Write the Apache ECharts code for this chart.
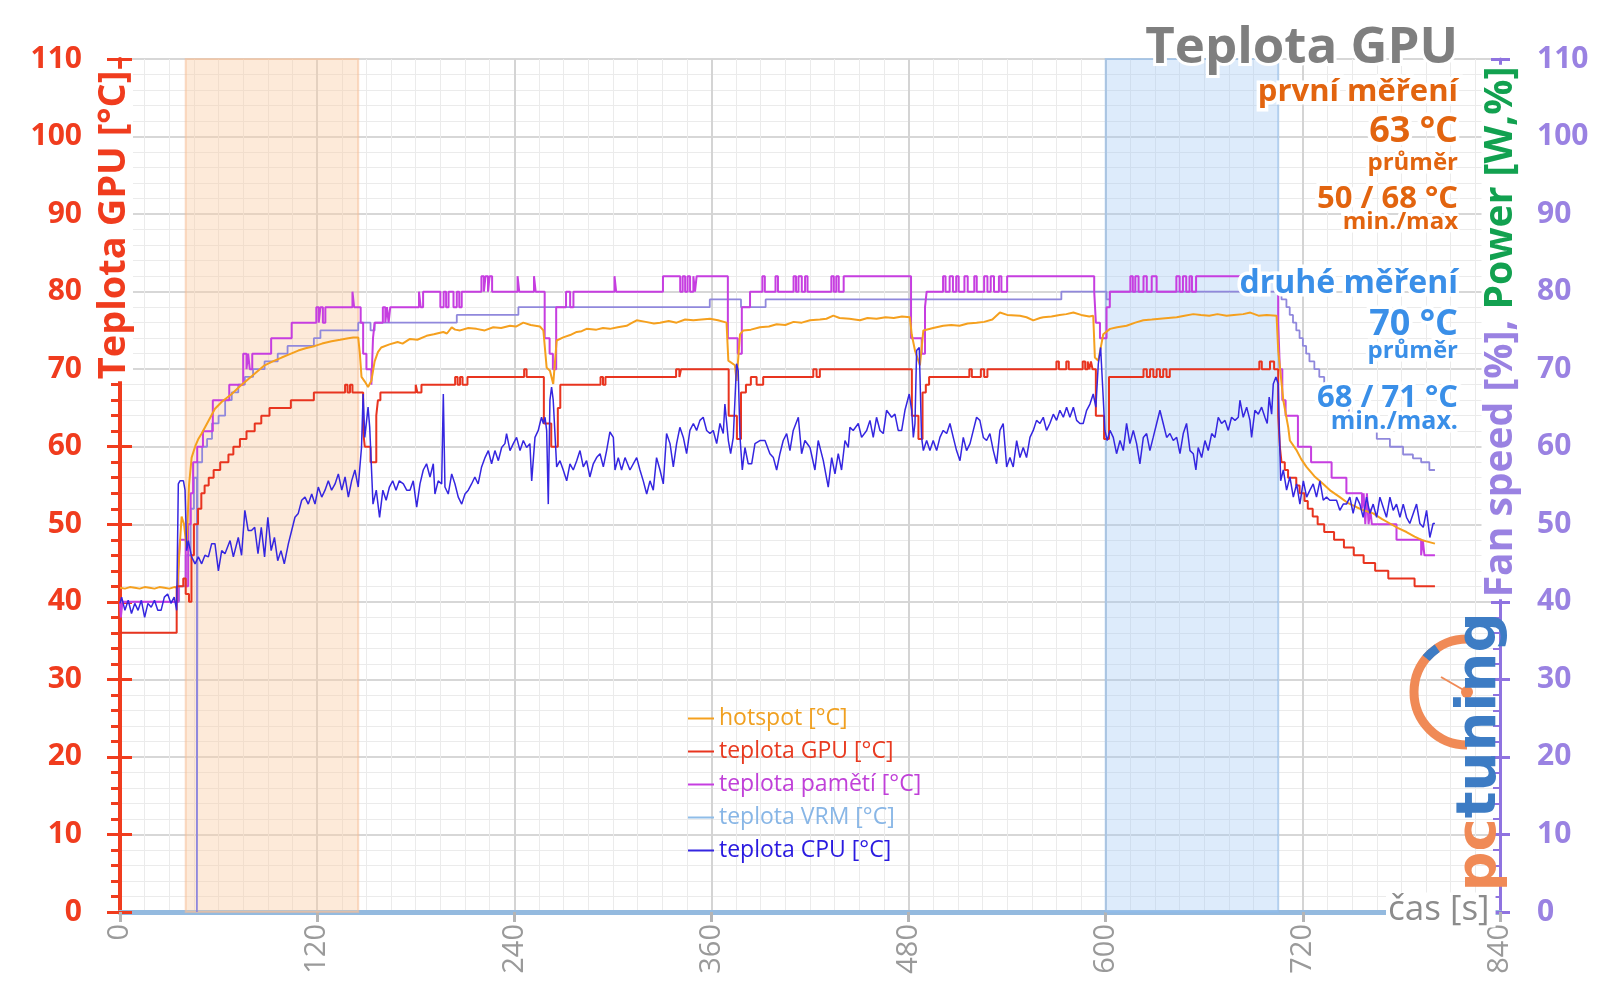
<!DOCTYPE html>
<html><head><meta charset="utf-8">
<script src="https://cdn.jsdelivr.net/npm/echarts/dist/echarts.min.js"></script>
<style>html,body{margin:0;padding:0;background:#fff}#c{width:1600px;height:1008px}</style>
</head><body><div id="c"></div>
<script>
// ---------------- DATA ----------------
const xMin = 0, xMax = 840, xStep = 120;
const yMin = 0, yMax = 110, yStep = 10;
const seriesNames = ['hotspot [°C]', 'teplota GPU [°C]', 'teplota pamětí [°C]', 'teplota VRM [°C]', 'teplota CPU [°C]'];
const fanName = 'Fan speed [%]';
const bandFirst = [40, 145];
const bandSecond = [600, 705];

const hotspot = [[0,41.8],[3,41.7],[6,41.9],[9,41.8],[12,41.7],[15,41.9],[18,41.8],[21,41.7],[24,41.9],[27,41.8],[30,41.7],[33,41.9],[35,41.8],[36,46],[37.5,51],[39,50],[40.5,47],[42,55],[43.6,58.6],[45.7,60],[47.7,61],[49.7,61.7],[53,63],[57.8,64.9],[62,65.8],[68,66.8],[73,67.8],[78,68.7],[83,69.6],[88,70.5],[93,71],[98.4,71.5],[103,71.9],[108.5,72.4],[113,72.7],[118.7,73],[123,73.3],[128.8,73.6],[134,73.8],[139,74],[142,74.1],[145,74.1],[146,72],[147,69],[149,68.4],[151,67.7],[153,68.5],[155,71],[157,72.2],[159,72.8],[164,73.2],[169,73.5],[172,73.3],[176.5,73.9],[181,73.8],[186.6,74.3],[191,74.5],[196.8,74.8],[199,74.6],[201.9,75.4],[204,75.1],[207,75],[212,75.3],[217,75.2],[222,75.0],[227.2,75.4],[232,75.3],[237.4,75.6],[241,75.5],[245.5,76],[250,75.7],[255.6,75.5],[257.7,75],[259.7,70.2],[261.7,69.8],[263.7,68.1],[265.8,73.7],[269.8,74.1],[274,74.4],[278,74.8],[281,74.9],[284,75.2],[290,75.1],[294,75.3],[298.2,75.2],[303,75.4],[308.4,75.6],[311,75.9],[314.5,76.3],[320,76.1],[325,75.9],[328.7,76],[334,76.2],[338.8,76],[344,76.4],[349,76.3],[354,76.4],[359.1,76.5],[364,76.3],[369.2,76],[370.3,71.1],[374.3,70.5],[375.3,68.5],[377.4,74.5],[379.4,75],[384,75.1],[389.5,75.4],[395,75.5],[399.7,75.8],[405,75.7],[410,76.1],[415,76.0],[420,76.3],[426,76.4],[430,76.5],[434.2,76.9],[438,76.6],[444,76.5],[450.4,76.3],[455,76.6],[460.5,76.5],[466,76.7],[471,76.6],[476,76.8],[480.8,76.7],[481.9,74.5],[483.9,72.4],[486.9,70.5],[489,75],[495,75.3],[501.1,75.6],[506,75.7],[511,75.6],[516,75.9],[521.4,76],[526,76.1],[531,76.4],[535.6,77.3],[540,77.0],[547.8,76.9],[551.8,76.7],[555.9,76.3],[560,76.6],[562,76.7],[567,76.8],[572,77.0],[576,77.1],[580.3,77.3],[585,77.0],[590,76.8],[592.4,76.9],[593.4,71.5],[595.5,71.1],[598.5,74.5],[602.6,75.2],[607,75.4],[612.7,75.6],[618,76],[622.9,76.3],[628,76.4],[633,76.5],[638,76.6],[643.2,76.7],[648,76.9],[653.3,77.1],[658,77.0],[663,76.9],[668,77.1],[673.6,76.9],[678,77.0],[683.7,77.1],[688,77.3],[693,76.9],[698,77.0],[704,76.9],[705,72.4],[708.1,66],[711.1,62.5],[712.1,60.8],[716,59.6],[719,58.4],[722.2,57.4],[727,56.2],[732.4,55.2],[737,54.3],[742.5,53.5],[747,52.8],[752.7,52.2],[757,51.8],[762.8,51.4],[768,50.7],[773,50.1],[778,49.5],[783.1,49],[788,48.4],[793.3,47.9],[797,47.7],[800.4,47.5]];

const gpuTemp = [[0,36],[34.5,42],[38.5,43],[40,41],[42,40],[43.5,46],[45,50],[47.5,52],[49.5,54],[51.5,55],[54,56],[57,57],[61,58],[66,59],[69,60],[73,61],[77,62],[82,63],[86,64],[91,65],[104,66],[118,67],[137,68],[138.5,67],[140,68],[141.5,67],[148,62],[149,60],[152.5,58],[156,64],[157,66],[158.5,67],[180,68],[181,67],[183.5,68],[204,69],[205.5,68],[207,69],[208.5,68],[211.5,69],[246,70],[247.5,69],[258,63],[262.5,60],[266.5,65],[268,68],[292.5,69],[294,68],[295.5,69],[338.5,70],[340.5,69],[341.5,70],[370.5,64],[375.5,61],[378,67],[381,68],[384,69],[387.5,68],[391.5,69],[422,70],[424,69],[426,70],[482,64],[486,61],[488.5,67],[490.5,68],[492.5,69],[517,70],[518.5,69],[524,70],[526,69],[528,70],[570,71],[571.5,70],[576,71],[577.5,70],[586,71],[587.5,70],[589,71],[590,70],[591,71],[592,70],[594,64],[599,61],[602,69],[623,70],[625,69],[627,70],[629,69],[631,70],[633,69],[635,70],[637,69],[639,70],[693.5,71],[695,70],[700,71],[702.5,70],[705,64],[706,60],[707,58],[709,57],[711,56],[716,55],[718,54],[721,53],[723,52],[726,51],[729,50],[733,49],[739,48],[745,47],[751,46],[757,45],[764,44],[772,43],[788,42],[800.4,42]];

const memTemp = [[0,40],[0.5,38],[1.5,40],[35.5,44],[36.5,48],[40,42],[41.5,50],[43,54],[44.5,58],[47,60],[50.5,62],[56.5,66],[66.5,68],[75,72],[77,70],[78,72],[79,70],[80.5,72],[92,74],[104.5,76],[119.5,78],[121,76],[122,78],[123.5,76],[125,78],[141.5,80],[142.5,78],[146.5,76],[148,72],[150,70],[153,68],[154,74],[155,76],[160,78],[161.5,76],[162.5,78],[163.5,76],[164.5,78],[182,80],[183,78],[184.5,80],[195,78],[197,80],[198.5,78],[200,80],[203,78],[205,80],[206.5,78],[208,80],[220,82],[221.5,80],[222.5,82],[224,80],[225,82],[226.5,80],[242,82],[243,80],[252,82],[253,80],[258.5,74],[261.5,72],[263.5,70],[265.5,78],[271.5,80],[274,78],[276,80],[301,82],[302,80],[330.5,82],[341,80],[342.5,82],[344,80],[345.5,82],[347,80],[349,82],[350,80],[351,82],[370,74],[376,72],[378.5,78],[383.5,80],[391,82],[392.5,80],[399,82],[400.5,80],[410,82],[411.5,80],[413,82],[415,80],[417,82],[418.5,80],[433,82],[434.5,80],[436,82],[437.5,80],[440.5,82],[481.5,74],[488,72],[490,78],[491,80],[501,82],[502.5,80],[505,82],[507,80],[509,82],[510.5,80],[514,82],[516,80],[520,82],[521.5,80],[526,82],[528,80],[530,82],[532,80],[535,82],[536.5,80],[540,82],[593,80],[594,76],[596.5,74],[600.5,78],[602.5,80],[615,82],[616.5,80],[618,82],[620,80],[623,82],[625,80],[628,82],[631,80],[643,82],[645,80],[647,82],[649,80],[651,82],[652.5,80],[655,82],[705,76],[706,70],[707.5,66],[709.5,64],[717,60],[725,58],[737.5,56],[746.5,54],[756,52],[757,54],[758,50],[759,54],[760,50],[761,52],[762,50],[777,48],[792,46],[793,48],[794,46],[800.4,46]];

const vrmTemp = [];

const fanSpeed = [[0,40],[36,42],[40,46],[43,52],[45,56],[46.8,0],[47.2,58],[50,60],[53,61],[56,63],[60,64],[64,66],[68,67],[72,68],[76,69],[81,70],[88,71],[96,72],[102,73],[118,74],[122,75],[145,76],[152.5,75],[155,76],[205,77],[242.5,78],[359,79],[378,78],[393,79],[573,80],[600.5,79],[602.5,80],[707,79],[710,78],[712,77],[714,76],[716,75],[718,74],[720,73],[722,72],[724,71],[727,70],[730,69],[733,68],[736,67],[739,66],[743,65],[748,64],[753,63],[758,62],[765,61],[773,60],[781,59],[787,58.5],[792,58],[797,57],[800.4,57]];

const cpuTemp = [[0,39.8],[1,40.6],[3,38.9],[5,40.2],[7,38.5],[9,39.8],[11,38.9],[13,40.2],[15,38.0],[17,39.8],[19,39.3],[21,40.2],[23,38.9],[25,38.9],[27,40.6],[29,41.0],[31,39.8],[33,40.6],[34.5,38.9],[35.5,55.2],[36.5,55.6],[38.6,55.6],[39.6,54.4],[40.6,46.6],[41.6,47.9],[43.6,45.8],[45.7,44.9],[47.7,45.8],[49.7,44.9],[51.7,46.0],[53.8,45.8],[55.8,47.5],[57.8,47.5],[59.9,44.0],[61.9,46.6],[63.9,46.2],[67,47.9],[69,45.8],[72,48.3],[74,46.0],[76,51.8],[78,49.2],[80,49.2],[82,49.6],[84,46.2],[86,49.6],[88,45.8],[90,50.9],[92,46.6],[94,48.3],[96,45.3],[98,46.6],[100,44.9],[102.5,47.5],[104.5,49.2],[106.5,50.9],[108.5,51.4],[110.6,53.1],[112.6,53.5],[114.6,52.6],[116.7,53.9],[118.7,52.6],[120.7,54.8],[122.8,53.5],[124.8,54.4],[126.8,55.6],[128.8,54.4],[130.9,55.2],[132.9,56.5],[135,54.4],[137,56.1],[139,53.5],[141,55.6],[143,57.0],[145,54.8],[147,59.9],[148,66.8],[149,61.2],[151,65.1],[152,62.5],[154,52.6],[156,54.4],[158,50.9],[160,54.4],[162,53.1],[164,54.8],[166,55.6],[168,54.4],[170,55.6],[172.5,55.2],[174.5,54.4],
[176.5,54.4],[178.5,55.6],[180.6,52.2],[182.6,55.2],[184.6,57.0],[186.6,57.8],[188.7,56.1],[190.7,57.8],[191.7,53.9],[193.7,55.6],[195.8,55.2],[196.8,66.8],[197.8,54.8],[199.8,53.9],[201.9,56.5],[203.9,55.2],[205.9,53.5],[208,52.6],[210,53.9],[212,54.4],[214,55.2],[216,56.1],[218,55.2],[220.1,57.4],[222.2,58.6],[224.2,59.5],[226.2,57.8],[228.2,59.5],[230.3,58.2],[232.3,59.9],[234.3,60.4],[235.3,61.7],[237.4,59.5],[239.4,60.4],[241.4,61.2],[243.5,59.5],[245.5,60.8],[247.5,59.9],[249.5,60.4],[250.6,55.6],[252.6,61.2],[254.6,62.1],[255.6,63.0],[256.6,63.8],[257.7,63.0],[258.7,63.8],[259.7,62.1],[260.7,52.6],[261.7,66.0],[262.7,67.7],[263.7,66.0],[265.8,57.4],[267.8,58.2],[269.8,57.0],[271.9,55.6],[273.9,57.8],[275.9,57.0],[278,58.2],[280,59.5],[282,57.4],[284,58.2],[286,56.1],[288.1,57.8],[290.1,58.6],[292.2,59.1],[294.2,57.4],[296.2,59.5],[298.2,61.9],[300.3,61.2],[301.3,57.0],[303.3,58.6],[305.3,57.0],[307.4,58.6],[310.4,57.0],[314.5,58.6],[316.5,57.0],[318.5,55.6],[320.6,53.9],[322.6,55.6],[324.6,54.4],[326.6,58.6],[328.7,57.0],[330.7,55.2],[332.7,61.7],[334.8,60.4],[336.8,57.4],[338.8,60.4],[340.8,62.5],[342.9,61.2],[344.9,59.1],[346.9,62.1],[349,63.0],[351,62.1],[353,63.4],[355,63.8],[357.1,62.1],
[359.1,61.7],[361.1,62.1],[363.2,60.4],[365.2,63.0],[367.2,61.7],[368.2,65.5],[370.3,60.8],[371.7,59.1],[373.3,61.2],[375.3,70.7],[376.3,69.8],[377.4,61.2],[378.8,57.0],[380.4,59.9],[382.4,57.8],[384.5,57.8],[386.5,60.4],[389.5,60.8],[392.6,60.8],[395.6,59.1],[397.7,58.6],[399.7,57.0],[401.7,59.1],[403.7,60.8],[405.8,61.7],[407.8,59.5],[409.8,62.1],[412.9,63.8],[414.9,59.1],[416.9,60.8],[420,59.9],[423,57.0],[425,60.8],[428.1,58.2],[431.1,54.8],[433.2,58.6],[435.2,56.5],[437.2,59.1],[439.2,57.0],[441.3,60.8],[443.3,59.9],[444.3,62.5],[446.3,62.1],[449.4,63.0],[451.4,61.2],[454.5,62.1],[456.5,63.4],[458.5,61.2],[460.5,63.8],[462.6,62.1],[464.6,61.7],[466.6,64.7],[469.7,63.8],[471.7,64.2],[473.7,62.1],[475.8,62.1],[477.8,64.7],[480.4,66.8],[481.9,64.7],[482.9,61.2],[483.9,63.0],[484.9,72.4],[486.5,72.8],[487.9,61.2],[489,59.5],[491,60.8],[493,59.5],[495,60.8],[497.1,59.5],[499.1,61.2],[501.1,62.1],[503.2,61.7],[505.2,63.0],[507.2,61.2],[509.2,59.5],[511.3,58.2],[513.3,61.2],[515.3,59.5],[517.4,60.4],[519.4,62.1],[521.4,63.8],[523.4,63.4],[525.5,61.2],[527.5,60.8],[529.5,61.7],[531.6,59.5],[533.6,57.8],[535.6,62.1],[537.6,63.0],[539.7,57.4],
[541.7,58.6],[543.7,57.4],[545.8,60.8],[547.8,58.6],[549.8,59.9],[551.8,58.6],[553.9,61.2],[555.9,62.1],[557.9,63.4],[560,63.0],[562,63.8],[564,62.1],[566,63.0],[568.1,64.2],[570.1,63.4],[572.1,64.7],[574.2,63.8],[576.2,65.1],[578.2,63.8],[580.3,65.1],[582.3,63.4],[584.3,63.0],[586.3,63.0],[588.4,64.7],[590.4,65.5],[592.4,66.8],[594,65.1],[595.5,70.7],[596.9,72.8],[598.1,72.8],[599.5,62.1],[600.9,60.8],[602.6,62.1],[604.6,61.2],[606.6,59.1],[608.7,60.8],[610.7,59.5],[612.7,63.0],[614.7,60.4],[616.8,62.1],[618.8,60.4],[620.8,57.8],[622.9,61.2],[624.9,61.7],[626.9,59.5],[628.9,61.2],[631,63.0],[633,64.7],[635,63.0],[637.1,61.2],[639.1,61.7],[641.1,60.8],[643.2,61.2],[645.2,59.1],[647.2,61.7],[649.2,63.0],[651.3,59.5],[653.3,59.1],[654.9,57.0],[656.3,59.9],[658.4,58.6],[660.4,60.8],[662.4,59.5],[664.5,61.7],[666.5,61.2],[668.5,63.8],[670.5,63.0],[672.6,63.4],[674.6,62.1],[676.6,63.8],[678.7,63.4],[680.7,63.8],[681.7,66.0],[683.7,63.8],[685.8,65.1],[687.8,63.4],[688.8,61.2],[690.8,64.7],[692.9,64.2],[694.9,65.1],[696.9,63.8],[698.3,63.0],[699.5,66.4],[701,64.2],[702,68.1],[703.6,69.0],[705,68.1],[706.5,55.6],[708.1,57.0],[710.1,54.4],[712.1,56.1],[714.2,53.5],[716.2,55.2],[718.2,52.6],[720.3,55.6],[722.3,53.5],[724.3,54.4],
[726.3,55.2],[728.3,53.5],[730.4,55.6],[732.4,53.1],[734.4,53.5],[736.4,53.1],[740.5,53.1],[742.5,51.8],[744.6,52.6],[746.6,52.6],[748.6,53.5],[750.6,51.4],[752.7,53.5],[754.7,52.6],[756.7,50.9],[758.8,53.5],[760.8,51.4],[762.8,52.6],[764.9,50.9],[766.9,53.5],[768.9,52.2],[770.9,50.9],[773,53.5],[775,51.8],[777,52.6],[779.1,50.9],[781.1,52.6],[783.1,50.9],[785.1,50.1],[787.2,51.4],[789.2,52.6],[791.2,50.1],[793.3,49.6],[795.3,51.8],[797.3,48.3],[799.3,50.1],[800.4,50.1]];

// texts
const titleText = 'Teplota GPU';
const leftAxisName = 'Teplota GPU [°C]';
const rightAxisNameA = 'Fan speed [%], ';
const rightAxisNameB = 'Power [W,%]';
const xAxisName = 'čas [s]';
const firstTexts = ['první měření', '63 °C', 'průměr', '50 / 68 °C', 'min./max'];
const secondTexts = ['druhé měření', '70 °C', 'průměr', '68 / 71 °C', 'min./max.'];

// ---------------- STYLE / LAYOUT ----------------
const FONT = 'Open Sans';
const RED = '#f03c1e', PURPLE = '#9a82e2', AXPURPLE = '#8f73e0';
const ORANGE = '#e2640f', BLUE = '#3a8fe8';
const colHot = '#f5a01e', colGpu = '#e8341f', colMem = '#c63ee0', colVrm = '#8fbde8', colCpu = '#3526e0', colFan = '#9088dc';
const legendTextColors = ['#f0a020', '#e83a20', '#c040d8', '#88b6e6', '#2a1ae0'];
const annY1 = [92, 132, 163, 199, 222];
const annY2 = [284, 325, 351, 398, 422];
const annSize = [31, 36, 24, 31, 24];
const annSize2 = [32, 36, 24, 31, 25];
const ANN_X = 1458;

function annText(text, y, size, color) {
  return {type: 'text', x: ANN_X, y: y, z: 100,
    style: {text: text, fill: color, fontSize: size, fontWeight: 'bold', fontFamily: FONT,
      align: 'right', verticalAlign: 'middle', textAlign: 'right', textVerticalAlign: 'middle',
      stroke: '#ffffff', lineWidth: 7}};
}

const graphics = [];
graphics.push({type: 'text', x: ANN_X, y: 48, z: 100,
  style: {text: titleText, fill: '#7f7f7f', fontSize: 51, fontWeight: 'bold', fontFamily: FONT,
    align: 'right', verticalAlign: 'middle', textAlign: 'right', textVerticalAlign: 'middle',
    stroke: '#ffffff', lineWidth: 6}});
firstTexts.forEach((t, i) => graphics.push(annText(t, annY1[i], annSize[i], ORANGE)));
secondTexts.forEach((t, i) => graphics.push(annText(t, annY2[i], annSize2[i], BLUE)));
// left axis name
graphics.push({type: 'text', x: 114, y: 225, rotation: Math.PI / 2, z: 100,
  style: {text: leftAxisName, fill: RED, fontSize: 38, fontWeight: 'bold', fontFamily: FONT,
    align: 'center', verticalAlign: 'middle', textAlign: 'center', textVerticalAlign: 'middle',
    backgroundColor: '#ffffff', padding: [0, 2]}});
// right axis name
graphics.push({type: 'text', x: 1501, y: 332, rotation: Math.PI / 2, z: 100,
  style: {text: '{a|' + rightAxisNameA + '}{b|' + rightAxisNameB + '}', fontSize: 39, fontWeight: 'bold', fontFamily: FONT,
    align: 'center', verticalAlign: 'middle', textAlign: 'center', textVerticalAlign: 'middle',
    backgroundColor: '#ffffff', padding: [0, 2],
    rich: {a: {fill: PURPLE, color: PURPLE, fontSize: 39, fontWeight: 'bold', fontFamily: FONT},
           b: {fill: '#12a150', color: '#12a150', fontSize: 39, fontWeight: 'bold', fontFamily: FONT}}}});
// x axis name
graphics.push({type: 'text', x: 1386, y: 910, z: 100,
  style: {text: xAxisName, fill: '#8c8c8c', fontSize: 35, fontFamily: FONT,
    align: 'left', verticalAlign: 'middle', textAlign: 'left', textVerticalAlign: 'middle',
    backgroundColor: '#ffffff', padding: [0, 6, 0, 2]}});
// logo
graphics.push({type: 'arc', z: 90, shape: {cx: 1467, cy: 692, r: 53, startAngle: Math.PI / 2, endAngle: Math.PI * 1.5, clockwise: true},
  style: {stroke: '#f08a56', lineWidth: 9, fill: null}});
graphics.push({type: 'arc', z: 91, shape: {cx: 1467, cy: 692, r: 53, startAngle: Math.PI * 1.22, endAngle: Math.PI * 1.31, clockwise: true},
  style: {stroke: '#3d7cc4', lineWidth: 9, fill: null}});
graphics.push({type: 'line', z: 91, shape: {x1: 1467, y1: 692, x2: 1441, y2: 677}, style: {stroke: '#f08a56', lineWidth: 2}});
graphics.push({type: 'circle', z: 91, shape: {cx: 1467, cy: 692, r: 6}, style: {fill: '#f08a56'}});
graphics.push({type: 'text', x: 1480, y: 752, rotation: Math.PI / 2, z: 92,
  style: {text: '{p|pc}{t|tuning}', fontSize: 56, fontWeight: 'bold', fontFamily: 'DejaVu Sans',
    align: 'center', verticalAlign: 'middle', textAlign: 'center', textVerticalAlign: 'middle',
    rich: {p: {fill: '#f08a56', color: '#f08a56', fontSize: 56, fontWeight: 'bold', fontFamily: 'DejaVu Sans'},
           t: {fill: '#3d7cc4', color: '#3d7cc4', fontSize: 56, fontWeight: 'bold', fontFamily: 'DejaVu Sans'}}}});

function lineSeries(name, data, color, width, opts) {
  return Object.assign({type: 'line', name: name, data: data, showSymbol: false, symbol: 'none',
    lineStyle: {color: color, width: width}, itemStyle: {color: color}, emphasis: {disabled: true}, silent: true}, opts || {});
}

const chart = echarts.init(document.getElementById('c'));
const option = {
  animation: false,
  backgroundColor: '#ffffff',
  textStyle: {fontFamily: FONT},
  grid: {left: 120, right: 100, top: 59, bottom: 96, containLabel: false, outerBoundsMode: 'none'},
  xAxis: {
    type: 'value', min: xMin, max: xMax, interval: xStep,
    axisLine: {show: true, onZero: false, lineStyle: {color: '#94badf', width: 5}},
    axisTick: {show: true, length: 10, lineStyle: {color: '#b5b5b5', width: 3}},
    minorTick: {show: false, splitNumber: 8},
    axisLabel: {rotate: 90, color: '#9a9a9a', fontSize: 29, fontFamily: FONT, margin: 12, showMinLabel: true, showMaxLabel: true},
    splitLine: {show: true, lineStyle: {color: '#d4d4d4', width: 2}},
    minorSplitLine: {show: true, lineStyle: {color: '#ebebeb', width: 1}}
  },
  yAxis: [
    {type: 'value', position: 'left', min: yMin, max: yMax, interval: yStep,
     axisLine: {show: true, onZero: false, lineStyle: {color: RED, width: 4}},
     axisTick: {show: true, length: 13, lineStyle: {color: RED, width: 3}},
     minorTick: {show: true, splitNumber: 5, length: 9, lineStyle: {color: RED, width: 3}},
     axisLabel: {color: RED, fontSize: 30, fontWeight: 'bold', fontFamily: FONT, margin: 38, showMinLabel: true, showMaxLabel: true},
     splitLine: {show: true, lineStyle: {color: '#d7d7d7', width: 2}},
     minorSplitLine: {show: true, lineStyle: {color: '#ebebeb', width: 1}}},
    {type: 'value', position: 'right', min: yMin, max: yMax, interval: yStep,
     axisLine: {show: true, onZero: false, lineStyle: {color: AXPURPLE, width: 3}},
     axisTick: {show: true, inside: true, length: 9, lineStyle: {color: AXPURPLE, width: 3}},
     minorTick: {show: true, splitNumber: 5, length: 7, lineStyle: {color: AXPURPLE, width: 2}},
     axisLabel: {color: PURPLE, fontSize: 30, fontWeight: 'bold', fontFamily: FONT, margin: 37, showMinLabel: true, showMaxLabel: true},
     splitLine: {show: false}},
    {type: 'value', position: 'left', min: yMin, max: yMax, interval: yStep,
     axisLine: {show: false}, axisTick: {show: true, inside: true, length: 12, lineStyle: {color: RED, width: 3}},
     axisLabel: {show: false}, splitLine: {show: false}},
    {type: 'value', position: 'right', min: yMin, max: yMax, interval: yStep,
     axisLine: {show: false}, axisTick: {show: true, inside: false, length: 10, lineStyle: {color: AXPURPLE, width: 3}},
     axisLabel: {show: false}, splitLine: {show: false}}
  ],
  legend: {
    left: 683, top: 702, orient: 'vertical', itemWidth: 26, itemHeight: 2, itemGap: 10, icon: 'rect',
    selectedMode: false, textStyle: {fontFamily: FONT, fontSize: 23},
    data: seriesNames.map((n, i) => ({name: n, textStyle: {color: legendTextColors[i]}}))
  },
  series: [
    lineSeries(fanName, fanSpeed, colFan, 1.8, {step: 'end', yAxisIndex: 1,
      markArea: {silent: true, data: [
        [{xAxis: bandFirst[0], itemStyle: {color: 'rgba(251,206,165,0.42)', borderColor: 'rgba(245,190,150,0.55)', borderWidth: 2}}, {xAxis: bandFirst[1]}],
        [{xAxis: bandSecond[0], itemStyle: {color: 'rgba(160,200,245,0.36)', borderColor: 'rgba(140,185,235,0.55)', borderWidth: 2}}, {xAxis: bandSecond[1]}]
      ]}}),
    lineSeries(seriesNames[2], memTemp, colMem, 2, {step: 'end'}),
    lineSeries(seriesNames[0], hotspot, colHot, 2),
    lineSeries(seriesNames[1], gpuTemp, colGpu, 2, {step: 'end'}),
    lineSeries(seriesNames[3], vrmTemp, colVrm, 2),
    lineSeries(seriesNames[4], cpuTemp, colCpu, 1.5)
  ],
  graphic: graphics
};
chart.setOption(option);
</script>
</body></html>
